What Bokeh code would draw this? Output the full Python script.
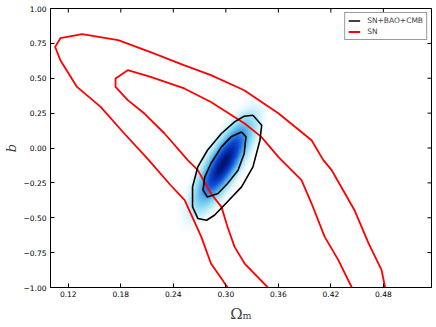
import numpy as np
from bokeh.plotting import figure
from bokeh.models import (LinearColorMapper, FixedTicker, Legend, LegendItem,
                          CustomJSTickFormatter, Range1d)
from bokeh.embed import file_html
from bokeh.resources import INLINE

# ---------------- data ----------------
x_ticks = [0.12, 0.18, 0.24, 0.30, 0.36, 0.42, 0.48]
y_ticks = [-1.0, -0.75, -0.5, -0.25, 0.0, 0.25, 0.5, 0.75, 1.0]
x_limits = [0.0997, 0.535]
y_limits = [-1.0, 1.0]

# SN only: outer (95%) contour
sn_outer_om = [0.302, 0.295, 0.283, 0.272, 0.253, 0.237, 0.212, 0.184, 0.157, 0.130,
               0.111, 0.105, 0.111, 0.136, 0.177, 0.214, 0.252, 0.283, 0.321, 0.360,
               0.398, 0.4114, 0.421, 0.436, 0.447, 0.463, 0.478, 0.482]
sn_outer_b = [-1.000, -0.936, -0.828, -0.637, -0.374, -0.267, -0.087, 0.104, 0.295, 0.438,
              0.629, 0.725, 0.787, 0.816, 0.773, 0.687, 0.594, 0.522, 0.414, 0.249,
              0.056, -0.087, -0.159, -0.324, -0.446, -0.682, -0.876, -1.000]

# SN only: inner (68%) contour
sn_inner_om = [0.348, 0.3215, 0.310, 0.302, 0.295, 0.283, 0.268, 0.2565, 0.230, 0.207,
               0.188, 0.174, 0.174, 0.188, 0.214, 0.2526, 0.283, 0.3215, 0.3406, 0.360,
               0.3636, 0.3865, 0.398, 0.413, 0.4286, 0.444]
sn_inner_b = [-1.000, -0.828, -0.709, -0.566, -0.422, -0.326, -0.159, -0.087, 0.104, 0.247,
              0.343, 0.438, 0.498, 0.558, 0.510, 0.427, 0.330, 0.176, 0.080, -0.064,
              -0.087, -0.231, -0.398, -0.637, -0.804, -1.000]

# SN+BAO+CMB: outer (95%) contour
joint_outer_om = [0.331, 0.341, 0.339, 0.331, 0.318, 0.300, 0.287, 0.278, 0.268, 0.262,
                  0.262, 0.268, 0.279, 0.295, 0.310, 0.321, 0.331]
joint_outer_b = [0.235, 0.163, 0.056, -0.135, -0.279, -0.398, -0.482, -0.518, -0.505, -0.422,
                 -0.279, -0.135, -0.016, 0.104, 0.187, 0.228, 0.235]

# SN+BAO+CMB: inner (68%) contour
joint_inner_om = [0.318, 0.323, 0.321, 0.314, 0.302, 0.291, 0.279, 0.274, 0.276, 0.283,
                  0.295, 0.306, 0.318]
joint_inner_b = [0.115, 0.080, -0.039, -0.159, -0.254, -0.326, -0.351, -0.303, -0.207, -0.111,
                 0.008, 0.080, 0.115]

# SN+BAO+CMB posterior shading
density_mean = [0.2975, -0.11]
density_sigma = [0.0158, 0.150]
density_rho = 0.80

# ---------------- density image ----------------
gx = np.linspace(0.22, 0.38, 240)
gy = np.linspace(-0.85, 0.60, 300)
GX, GY = np.meshgrid(gx, gy)
u = (GX - density_mean[0]) / density_sigma[0]
v = (GY - density_mean[1]) / density_sigma[1]
r2 = (u * u - 2 * density_rho * u * v + v * v) / (1 - density_rho ** 2)
dens = np.exp(-0.5 * r2)

anchors_f = [0.0, 0.015, 0.05, 0.15, 0.35, 0.55, 0.78, 1.0]
anchors_c = [(255, 255, 255), (232, 248, 252), (185, 234, 247), (118, 208, 240),
             (55, 140, 228), (15, 80, 215), (5, 45, 175), (0, 20, 110)]
palette = []
for t in np.linspace(0, 1, 256):
    c = [int(round(np.interp(t, anchors_f, [a[i] for a in anchors_c]))) for i in range(3)]
    palette.append("#%02x%02x%02x" % tuple(c))
mapper = LinearColorMapper(palette=palette, low=0.0, high=1.0)

# ---------------- figure ----------------
p = figure(width=434, height=325, x_range=Range1d(*x_limits), y_range=Range1d(*y_limits),
           output_backend="svg", toolbar_location=None,
           min_border_left=50, min_border_right=3, min_border_top=8, min_border_bottom=38)
p.grid.visible = False
p.outline_line_color = "black"
p.outline_line_width = 1
p.background_fill_color = "white"
p.border_fill_color = "white"

p.image(image=[dens], x=gx[0], y=gy[0], dw=gx[-1] - gx[0], dh=gy[-1] - gy[0],
        color_mapper=mapper)

r_sn1 = p.line(sn_outer_om, sn_outer_b, line_color="#ff0000", line_width=1.8, line_join="round")
p.line(sn_inner_om, sn_inner_b, line_color="#ff0000", line_width=1.8, line_join="round")
r_j1 = p.line(joint_outer_om, joint_outer_b, line_color="black", line_width=1.6, line_join="round")
p.line(joint_inner_om, joint_inner_b, line_color="black", line_width=1.6, line_join="round")

# inward ticks on the top and right edges (matplotlib classic style)
p.scatter(x_ticks, [y_limits[1]] * len(x_ticks), marker="dash", angle=np.pi / 2, size=8,
          line_color="black", line_width=1)
p.scatter([x_limits[1]] * len(y_ticks), y_ticks, marker="dash", size=8,
          line_color="black", line_width=1)

fmt = CustomJSTickFormatter(code="var s = Math.abs(tick).toFixed(2); return (tick < -1e-9 ? '\u2212' : '') + s;")

for ax, ticks in ((p.xaxis[0], x_ticks), (p.yaxis[0], y_ticks)):
    ax.ticker = FixedTicker(ticks=ticks)
    ax.formatter = fmt
    ax.major_tick_in = 4
    ax.major_tick_out = 0
    ax.minor_tick_in = 0
    ax.minor_tick_out = 0
    ax.minor_tick_line_color = None
    ax.major_label_text_font = "DejaVu Sans"
    ax.major_label_text_font_size = "7.5px"
    ax.major_label_text_color = "black"
    ax.axis_line_color = "black"
    ax.major_tick_line_color = "black"

p.xaxis.major_label_standoff = 3
p.yaxis.major_label_standoff = 4

p.xaxis.axis_label = "Ω\u2098"
p.xaxis.axis_label_text_font = "DejaVu Serif"
p.xaxis.axis_label_text_font_style = "normal"
p.xaxis.axis_label_text_font_size = "15px"
p.xaxis.axis_label_standoff = 5
p.yaxis.axis_label = "b"
p.yaxis.axis_label_text_font = "DejaVu Serif"
p.yaxis.axis_label_text_font_style = "italic"
p.yaxis.axis_label_text_font_size = "13px"
p.yaxis.axis_label_standoff = 2

legend = Legend(items=[LegendItem(label="SN+BAO+CMB", renderers=[r_j1]),
                       LegendItem(label="SN", renderers=[r_sn1])],
                location="top_right", margin=4, padding=3, spacing=2,
                glyph_width=12, glyph_height=9, label_height=9, label_standoff=7,
                label_text_font="DejaVu Sans", label_text_font_size="7.5px",
                border_line_color="#333333", border_line_width=1,
                background_fill_color="white", background_fill_alpha=1)
p.add_layout(legend)

open("out.html", "w").write(file_html(p, INLINE))
